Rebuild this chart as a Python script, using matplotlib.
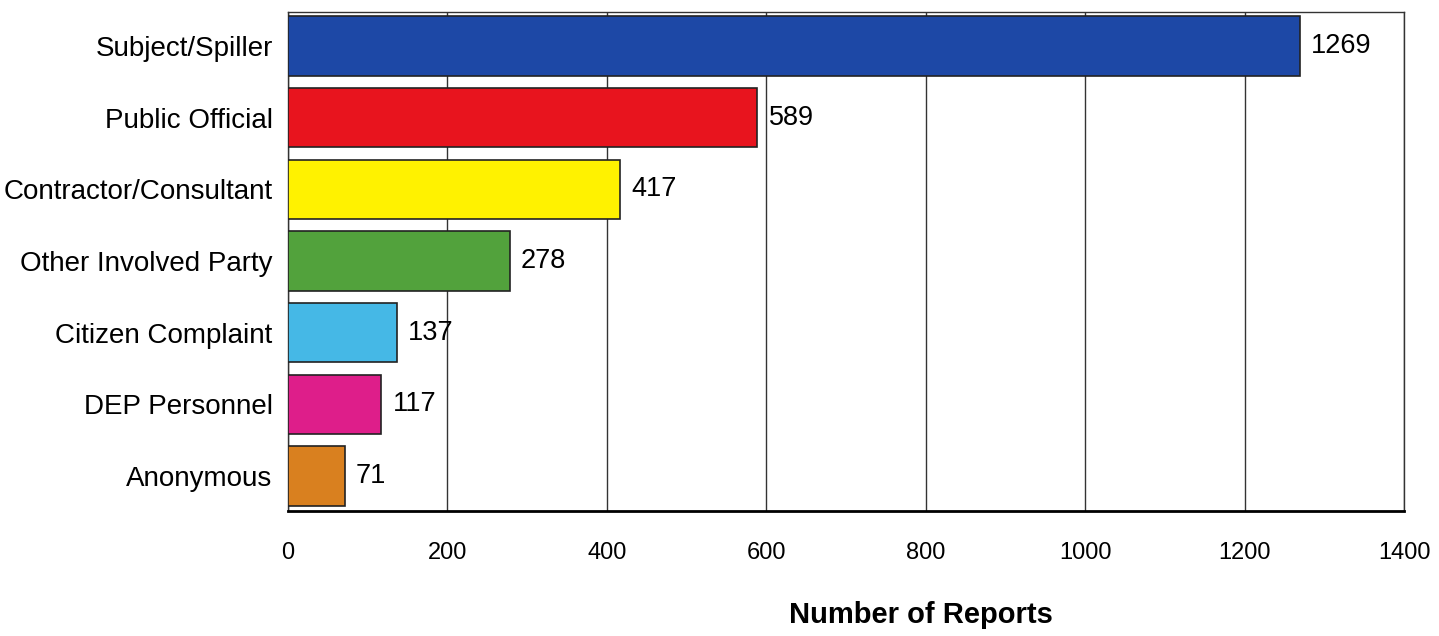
import matplotlib
matplotlib.use("Agg")
from matplotlib import pyplot as plt

categories = ["Subject/Spiller", "Public Official", "Contractor/Consultant",
              "Other Involved Party", "Citizen Complaint", "DEP Personnel", "Anonymous"]
reports = [1269, 589, 417, 278, 137, 117, 71]
bar_colors = ["#1d48a6", "#e8141e", "#fff200", "#52a23c", "#45b8e6", "#de1e8a", "#d9801f"]
x_ticks = [0, 200, 400, 600, 800, 1000, 1200, 1400]

plt.rcParams['font.family'] = ['Liberation Sans', 'DejaVu Sans']

fig = plt.figure(figsize=(14.39, 6.36), dpi=100)
ax = fig.add_axes([0.2001, 0.1965, 0.7756, 0.7845])

pos = list(range(len(categories)))
ax.barh(pos, reports, height=0.83, color=bar_colors, edgecolor="#222222",
        linewidth=1.2, zorder=3)

# value labels right of each bar
for p, v in zip(pos, reports):
    ax.text(v + 14, p, str(v), va="center", ha="left", fontsize=19.5, zorder=4)

ax.set_xlim(0, 1400)
ax.set_ylim(6.49, -0.475)
ax.set_xticks(x_ticks)
ax.set_yticks(pos)
ax.set_yticklabels(categories, fontsize=20)
ax.tick_params(axis='both', length=0)
ax.tick_params(axis='x', labelsize=17, pad=22)
ax.tick_params(axis='y', pad=11)
ax.xaxis.grid(True, color="#333333", linewidth=1.0, zorder=0)
ax.set_axisbelow(True)

for side in ["top", "right", "left"]:
    ax.spines[side].set_linewidth(1.0)
    ax.spines[side].set_color("#333333")
ax.spines["bottom"].set_linewidth(2.0)

ax.set_xlabel("Number of Reports", fontsize=21, fontweight="bold")
ax.xaxis.label.set_va("center")
ax.xaxis.set_label_coords(0.567, -0.208)

fig.savefig("out.png", dpi=100)
